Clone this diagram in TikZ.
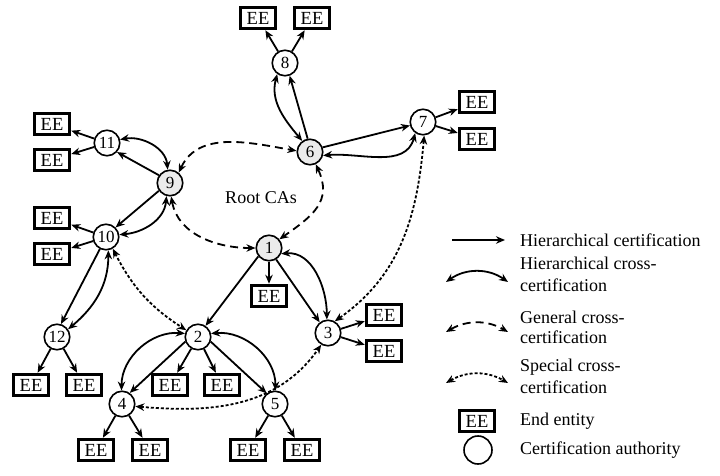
\documentclass[tikz,border=0pt]{standalone}
\usepackage{fontspec}
\setmainfont{Liberation Serif}
\usetikzlibrary{arrows.meta}
\begin{document}
\begin{tikzpicture}[x=1pt,y=1pt,
 ca/.style={circle,draw,line width=1.6pt,minimum size=25.5pt,inner sep=0pt,font=\fontsize{17}{17}\selectfont},
 root/.style={ca,fill=black!8},
 ee/.style={rectangle,draw,line width=3pt,minimum width=35.5pt,minimum height=21.5pt,inner sep=0pt,font=\fontsize{18.5}{18.5}\selectfont},
 hier/.style={line width=1.8pt,-{Stealth[length=9pt,width=7.5pt]}},
 hcross/.style={line width=1.8pt,{Stealth[length=9pt,width=7.5pt]}-{Stealth[length=9pt,width=7.5pt]}},
 gcross/.style={hcross,dash pattern=on 8pt off 5pt},
 scross/.style={hcross,dash pattern=on 3pt off 2pt},
 lbl/.style={anchor=west,inner sep=0pt,font=\fontsize{18}{18}\selectfont},
]
\useasboundingbox (0,0) rectangle (720,475);

% CAs
\node[ca]   (n8)  at (285,412) {8};
\node[root] (n6)  at (310,323) {6};
\node[ca]   (n7)  at (423,353) {7};
\node[ca]   (n11) at (107,332) {11};
\node[root] (n9)  at (170,292) {9};
\node[ca]   (n10) at (106,238) {10};
\node[root] (n1)  at (269,227) {1};
\node[ca]   (n12) at (57,138) {12};
\node[ca]   (n2)  at (198,138) {2};
\node[ca]   (n3)  at (328,142) {3};
\node[ca]   (n4)  at (122,71) {4};
\node[ca]   (n5)  at (275,71) {5};

% End entities
\node[ee] (e8a)  at (258,457) {EE};
\node[ee] (e8b)  at (312,457) {EE};
\node[ee] (e7a)  at (477,373) {EE};
\node[ee] (e7b)  at (477,336) {EE};
\node[ee] (e11a) at (52,351) {EE};
\node[ee] (e11b) at (52,315) {EE};
\node[ee] (e10a) at (52,257) {EE};
\node[ee] (e10b) at (52,221) {EE};
\node[ee] (e1)   at (269,179) {EE};
\node[ee] (e3a)  at (384,160) {EE};
\node[ee] (e3b)  at (384,124) {EE};
\node[ee] (e12a) at (31,90) {EE};
\node[ee] (e12b) at (84,90) {EE};
\node[ee] (e2a)  at (170,90) {EE};
\node[ee] (e2b)  at (222,90) {EE};
\node[ee] (e4a)  at (96,25) {EE};
\node[ee] (e4b)  at (150,25) {EE};
\node[ee] (e5a)  at (248,25) {EE};
\node[ee] (e5b)  at (302,25) {EE};

\node[font=\fontsize{18}{18}\selectfont] (root) at (261,277) {Root CAs};

% hierarchical certification
\draw[hier] (n8) -- (e8a);
\draw[hier] (n8) -- (e8b);
\draw[hier] (n6.100) -- (n8.290);
\draw[hier] (n6.20) -- (n7.195);
\draw[hier] (n7) -- (e7a);
\draw[hier] (n7) -- (e7b);
\draw[hier] (n9.145) -- (n11.318);
\draw[hier] (n9.215) -- (n10.45);
\draw[hier] (n11) -- (e11a);
\draw[hier] (n11) -- (e11b);
\draw[hier] (n10) -- (e10a);
\draw[hier] (n10) -- (e10b);
\draw[hier] (n10.243) -- (n12.73);
\draw[hier] (n12) -- (e12a);
\draw[hier] (n12) -- (e12b);
\draw[hier] (n1) -- (e1);
\draw[hier] (n1.218) -- (n2.56);
\draw[hier] (n1.302) -- (n3.128);
\draw[hier] (n3) -- (e3a);
\draw[hier] (n3) -- (e3b);
\draw[hier] (n2.200) -- (n4.55);
\draw[hier] (n2.340) -- (n5.128);
\draw[hier] (n2) -- (e2a);
\draw[hier] (n2) -- (e2b);
\draw[hier] (n4) -- (e4a);
\draw[hier] (n4) -- (e4b);
\draw[hier] (n5) -- (e5a);
\draw[hier] (n5) -- (e5b);

% hierarchical cross-certification
\draw[hcross] (n8.235) to[out=255,in=130] (n6.125);
\draw[hcross] (n6.345) to[out=5,in=255] (n7.235);
\draw[hcross] (n11.15) to[out=10,in=95] (n9.100);
\draw[hcross] (n10.10) to[out=5,in=265] (n9.255);
\draw[hcross] (n10.280) to[out=270,in=40] (n12.35);
\draw[hcross] (n1.335) to[out=5,in=90] (n3.95);
\draw[hcross] (n2.165) to[out=175,in=90] (n4.92);
\draw[hcross] (n2.15) to[out=5,in=90] (n5.88);

% general cross-certification
\draw[gcross] (n9.50) to[out=65,in=170] (n6.175);
\draw[gcross] (n6.295) to[out=295,in=35,looseness=1.25] (n1.40);
\draw[gcross] (n9.275) to[out=280,in=180] (n1.180);

% special cross-certification
\draw[scross] (n10.300) to[bend right=15] (n2.150);
\draw[scross] (n7.275) to[out=265,in=35] (n3.60);
\draw[scross] (n4.350) to[out=-5,in=235] (n3.240);

% legend
\coordinate (la1) at (452,235); \coordinate (lb1) at (505,235);
\coordinate (la2) at (446,193); \coordinate (lb2) at (508,193);
\coordinate (la3) at (446,143); \coordinate (lb3) at (508,143);
\coordinate (la4) at (446,92);  \coordinate (lb4) at (508,92);
\draw[hier] (la1) -- (lb1);
\draw[hcross] (la2) to[bend left=35] (lb2);
\draw[gcross] (la3) to[bend left=30] (lb3);
\draw[scross] (la4) to[bend left=30] (lb4);
\node[ee] (lee) at (477,54) {EE};
\node[ca,minimum size=28pt] (lca) at (478,25) {};

\node[lbl] (t1)  at (520,235) {Hierarchical certification};
\node[lbl] (t2a) at (520,212) {Hierarchical cross-};
\node[lbl] (t2b) at (520,190) {certification};
\node[lbl] (t3a) at (520,158) {General cross-};
\node[lbl] (t3b) at (520,138) {certification};
\node[lbl] (t4a) at (520,108) {Special cross-};
\node[lbl] (t4b) at (520,88)  {certification};
\node[lbl] (t5)  at (520,54)  {End entity};
\node[lbl] (t6)  at (520,25)  {Certification authority};
\end{tikzpicture}
\end{document}
